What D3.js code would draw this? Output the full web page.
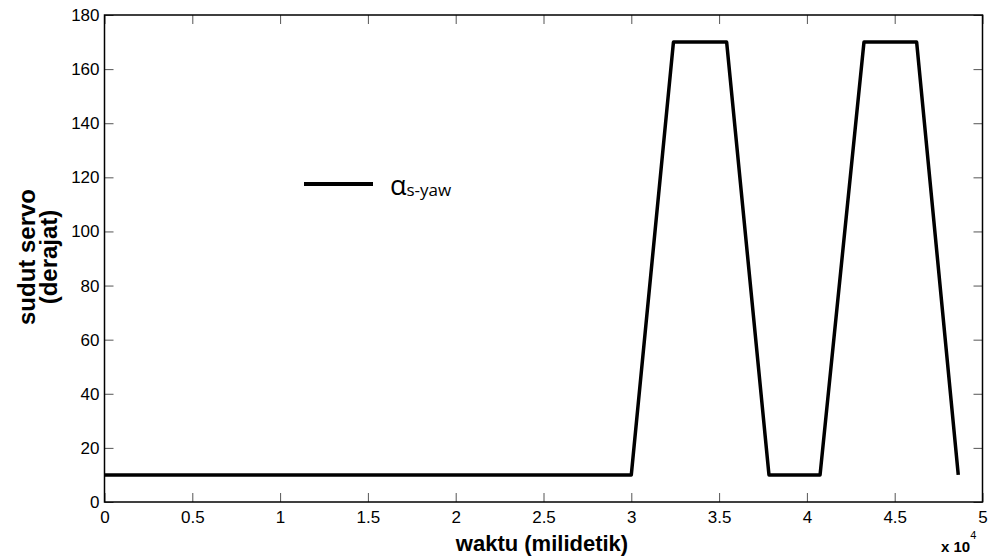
<!DOCTYPE html>
<html>
<head>
<meta charset="utf-8">
<script src="https://cdn.jsdelivr.net/npm/d3@7"></script>
<style>
  body { margin: 0; background: #fff; }
  svg text { font-family: "Liberation Sans", Arial, sans-serif; }
</style>
</head>
<body>
<div id="app"></div>
<script>
// servo angle over time (ms)
const timeMs = [0, 30000, 32400, 35430, 37840, 40750, 43250, 46250, 48620];
const angleDeg = [10, 10, 170, 170, 10, 10, 170, 170, 10];
const xTicks = [0, 0.5, 1, 1.5, 2, 2.5, 3, 3.5, 4, 4.5, 5];
const yTicks = [0, 20, 40, 60, 80, 100, 120, 140, 160, 180];

const W = 993, H = 558;
const margin = { left: 104.5, right: 10.5, top: 15, bottom: 56 };
const width = W - margin.left - margin.right;
const height = H - margin.top - margin.bottom;

const svg = d3.select("#app").append("svg")
    .attr("width", W)
    .attr("height", H);

const g = svg.append("g")
    .attr("transform", `translate(${margin.left},${margin.top})`);

const x = d3.scaleLinear().domain([0, 5]).range([0, width]);
const y = d3.scaleLinear().domain([0, 180]).range([height, 0]);

// inward ticks on all four sides
const tickLen = 9;
g.append("g")
    .attr("class", "xaxis")
    .attr("transform", `translate(0,${height})`)
    .call(d3.axisBottom(x).tickValues(xTicks).tickSizeInner(-tickLen).tickSizeOuter(0).tickPadding(9).tickFormat(d3.format("")))
    .call(a => a.select(".domain").remove());
g.append("g")
    .call(d3.axisTop(x).tickValues(xTicks).tickSizeInner(-tickLen).tickSizeOuter(0).tickFormat(""))
    .call(a => a.select(".domain").remove());
g.append("g")
    .call(d3.axisLeft(y).tickValues(yTicks).tickSizeInner(-tickLen).tickSizeOuter(0).tickPadding(5))
    .call(a => a.select(".domain").remove());
g.append("g")
    .attr("transform", `translate(${width},0)`)
    .call(d3.axisRight(y).tickValues(yTicks).tickSizeInner(-tickLen).tickSizeOuter(0).tickFormat(""))
    .call(a => a.select(".domain").remove());

g.selectAll(".tick line").attr("stroke", "#555");
g.selectAll(".tick text").attr("font-size", 17).attr("fill", "#000");

// frame
g.append("rect")
    .attr("width", width)
    .attr("height", height)
    .attr("fill", "none")
    .attr("stroke", "#000")
    .attr("stroke-width", 1.5);

// data line
const line = d3.line()
    .x((d, i) => x(timeMs[i] / 1e4))
    .y(d => y(d));

g.append("path")
    .datum(angleDeg)
    .attr("d", line)
    .attr("fill", "none")
    .attr("stroke", "#000")
    .attr("stroke-width", 3.5)
    .attr("stroke-linejoin", "round");

// axis labels
svg.append("text")
    .attr("x", 542)
    .attr("y", 551)
    .attr("text-anchor", "middle")
    .attr("font-size", 22)
    .attr("font-weight", "bold")
    .text("waktu (milidetik)");

const yl = svg.append("text")
    .attr("transform", `translate(0,257) rotate(-90)`)
    .attr("text-anchor", "middle")
    .attr("font-size", 24)
    .attr("font-weight", "bold");
yl.append("tspan").attr("x", 0).attr("y", 35).text("sudut servo");
yl.append("tspan").attr("x", 0).attr("y", 57).text("(derajat)");

// exponent label
const ex = svg.append("text")
    .attr("x", 941)
    .attr("y", 552)
    .attr("font-size", 15)
    .attr("font-weight", "bold");
ex.append("tspan").text("x 10");
ex.append("tspan").attr("dy", -13).attr("font-size", 11).attr("font-weight", "normal").text("4");

// legend
svg.append("line")
    .attr("x1", 304).attr("x2", 373)
    .attr("y1", 184).attr("y2", 184)
    .attr("stroke", "#000")
    .attr("stroke-width", 4);
const lg = svg.append("text")
    .attr("x", 390)
    .attr("y", 195)
    .style("font-family", "'Open Sans', sans-serif");
lg.append("tspan").attr("font-size", 27).text("α");
lg.append("tspan").attr("font-size", 17).attr("dy", 1).text("s-yaw");
</script>
</body>
</html>
